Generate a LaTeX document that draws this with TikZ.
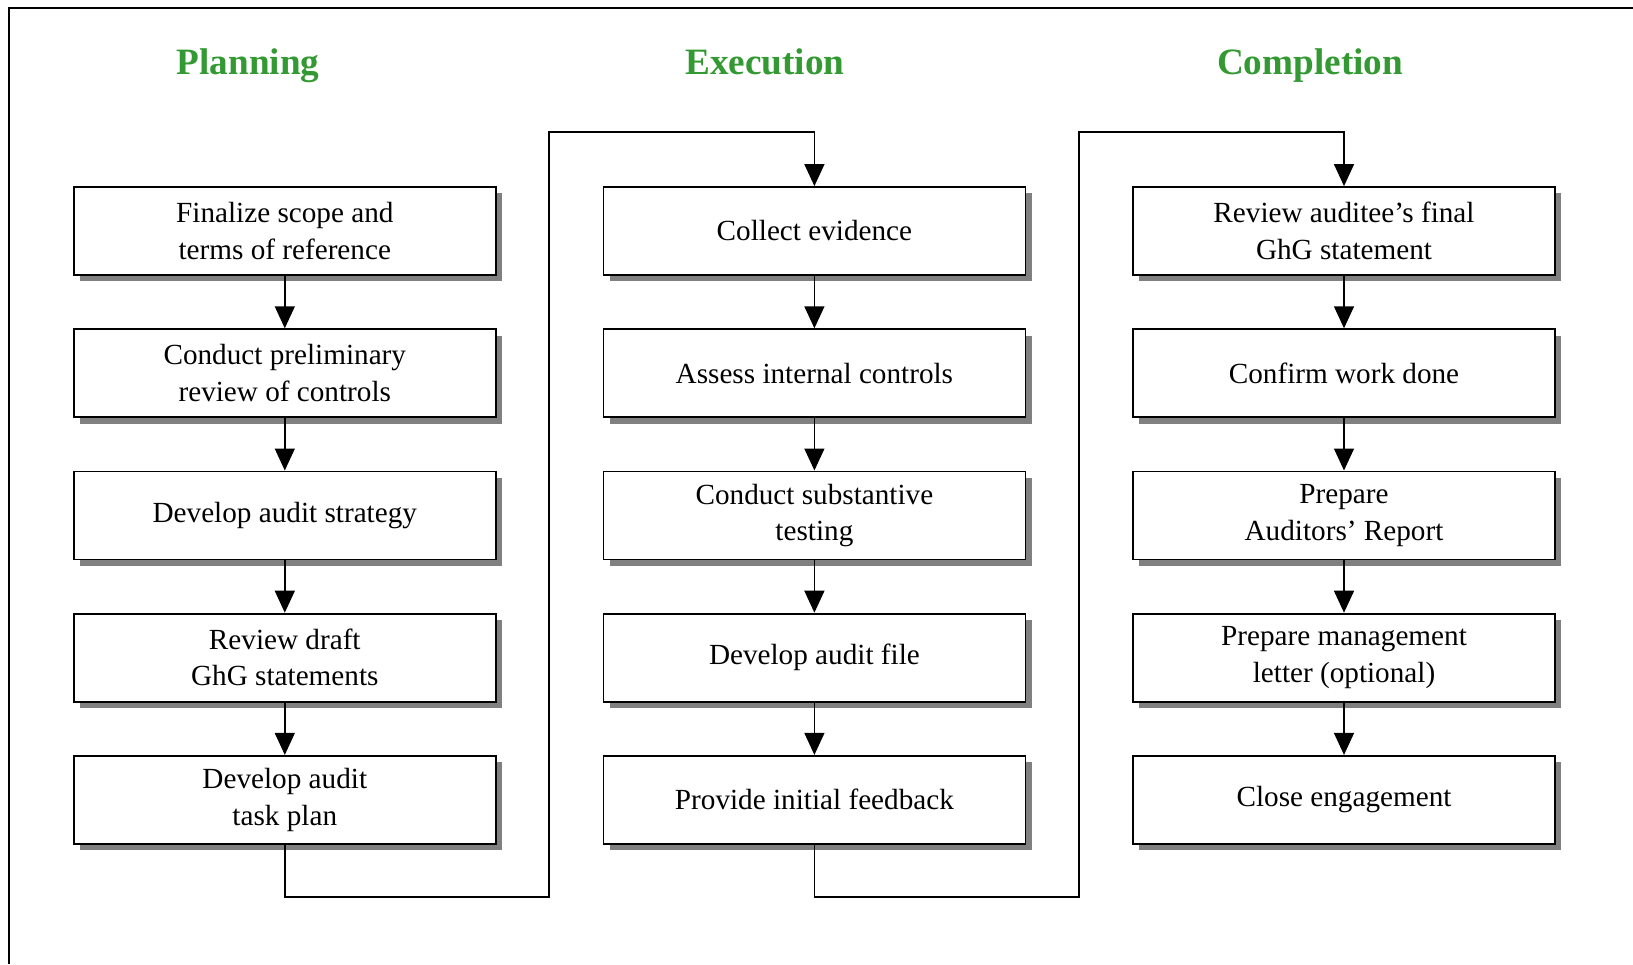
\documentclass[tikz,border=0pt]{standalone}
\usepackage{fontspec}
\setmainfont{Liberation Serif}
\usepackage{tikz}
\usetikzlibrary{arrows.meta,positioning,shadows}
\definecolor{phasegreen}{RGB}{51,153,51}
\definecolor{shadowgray}{RGB}{128,128,128}

\begin{document}
\begin{tikzpicture}[x=0.5pt,y=-0.5pt,node distance=26.2pt and 52.9pt,
    stepbox/.style={rectangle,draw,line width=0.9pt,fill=white,align=center,minimum width=211pt,minimum height=44pt,inner sep=2pt,
        font=\fontsize{14.6}{18.2}\selectfont,drop shadow={shadow xshift=3.2pt,shadow yshift=-3.2pt,fill=shadowgray,opacity=1}},
    phase/.style={anchor=base,font=\fontsize{18.6}{22}\selectfont\bfseries,text=phasegreen},
    flow/.style={-{Triangle[length=11pt,width=10pt]},line width=0.7pt}]

    \useasboundingbox (0,0) rectangle (1633,964);
    % frame (left and top only)
    \draw[line width=1pt] (8.5,964) -- (8.5,7.5) -- (1633,7.5);

    % Phase titles
    \node[phase] (tplan) at (248,74) {Planning};
    \node[phase] (texec) at (765,74) {Execution};
    \node[phase] (tcomp) at (1310,74) {Completion};

    % Planning column
    \node[stepbox] (p1) at (284.8,231) {Finalize scope and\\terms of reference};
    \node[stepbox,below=of p1] (p2) {Conduct preliminary\\review of controls};
    \node[stepbox,below=of p2] (p3) {Develop audit strategy};
    \node[stepbox,below=of p3] (p4) {Review draft\\GhG statements};
    \node[stepbox,below=of p4] (p5) {Develop audit\\task plan};

    % Execution column
    \node[stepbox,right=of p1] (e1) {Collect evidence};
    \node[stepbox,below=of e1] (e2) {Assess internal controls};
    \node[stepbox,below=of e2] (e3) {Conduct substantive\\testing};
    \node[stepbox,below=of e3] (e4) {Develop audit file};
    \node[stepbox,below=of e4] (e5) {Provide initial feedback};

    % Completion column
    \node[stepbox,right=of e1] (c1) {Review auditee’s final\\GhG statement};
    \node[stepbox,below=of c1] (c2) {Confirm work done};
    \node[stepbox,below=of c2] (c3) {Prepare\\Auditors’ Report};
    \node[stepbox,below=of c3] (c4) {Prepare management\\letter (optional)};
    \node[stepbox,below=of c4] (c5) {Close engagement};

    % Flow inside columns
    \draw[flow] (p1) -- (p2);
    \draw[flow] (p2) -- (p3);
    \draw[flow] (p3) -- (p4);
    \draw[flow] (p4) -- (p5);
    \draw[flow] (e1) -- (e2);
    \draw[flow] (e2) -- (e3);
    \draw[flow] (e3) -- (e4);
    \draw[flow] (e4) -- (e5);
    \draw[flow] (c1) -- (c2);
    \draw[flow] (c2) -- (c3);
    \draw[flow] (c3) -- (c4);
    \draw[flow] (c4) -- (c5);

    % Flow between columns
    \coordinate (lowA) at (549,897);
    \coordinate (topA) at (549,132);
    \coordinate (lowB) at (1079,897);
    \coordinate (topB) at (1079,132);
    \draw[flow] (p5.south) |- (lowA) -- (topA) -| (e1.north);
    \draw[flow] (e5.south) |- (lowB) -- (topB) -| (c1.north);
\end{tikzpicture}
\end{document}
